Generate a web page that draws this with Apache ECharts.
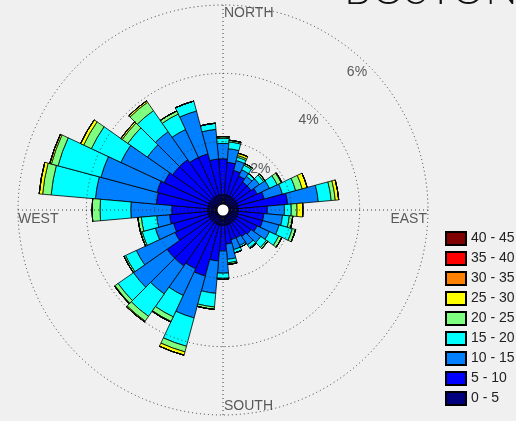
<!DOCTYPE html>
<html>
<head>
<meta charset="utf-8">
<script src="https://cdn.jsdelivr.net/npm/echarts@6/dist/echarts.min.js"></script>
<style>
  html, body { margin: 0; padding: 0; background: #f0f0f0; }
  #chart { width: 516px; height: 421px; }
</style>
</head>
<body>
<div id="chart"></div>
<script>
// Wind directions (degrees from north, clockwise), one bar per 10° sector
const directions = [0,10,20,30,40,50,60,70,80,90,100,110,120,130,140,150,160,170,
                    180,190,200,210,220,230,240,250,260,270,280,290,300,310,320,330,340,350];

// Speed classes (legend lists them highest first)
const speedBins = ['0 - 5','5 - 10','10 - 15','15 - 20','20 - 25','25 - 30','30 - 35','35 - 40','40 - 45'];
const binColors = ['#00007f','#0000ff','#007fff','#00ffff','#7fff7f','#ffff00','#ff7f00','#ff0000','#7f0000'];

// Frequency (% of time) per direction for each speed class
const freq0to5   = [0.45,0.45,0.45,0.45,0.45,0.45,0.45,0.45,0.45,0.45,0.45,0.45,0.45,0.45,0.45,0.45,0.45,0.45,
                    0.45,0.45,0.45,0.45,0.45,0.45,0.45,0.45,0.45,0.45,0.45,0.45,0.45,0.45,0.45,0.45,0.45,0.45];
const freq5to10  = [1.05,0.95,0.75,0.65,0.55,0.55,0.65,0.80,1.45,0.85,0.75,0.75,0.65,0.55,0.50,0.45,0.45,0.55,
                    0.75,1.05,1.55,1.45,1.55,1.55,1.10,1.05,1.12,1.05,1.51,1.55,1.45,1.35,1.35,1.25,1.25,1.05];
const freq10to15 = [0.45,0.40,0.30,0.20,0.20,0.30,0.40,0.55,0.90,0.50,0.55,0.50,0.40,0.35,0.30,0.25,0.30,0.45,
                    0.65,0.95,1.27,0.86,1.00,1.20,1.25,0.55,0.38,1.20,1.79,1.70,1.40,0.90,1.00,0.90,1.30,0.87];
const freq15to20 = [0.15,0.20,0.10,0.15,0.10,0.15,0.25,0.40,0.38,0.20,0.20,0.40,0.30,0.20,0.10,0.05,0.10,0.10,
                    0.15,0.40,0.86,0.69,0.80,0.55,0.35,0.40,0.45,0.90,1.30,1.30,0.95,0.70,0.75,0.50,0.30,0.18];
const freq20to25 = [0.05,0.05,0.05,0.05,0.00,0.05,0.13,0.20,0.12,0.17,0.10,0.10,0.10,0.05,0.03,0.00,0.00,0.05,
                    0.02,0.07,0.17,0.15,0.17,0.11,0.05,0.05,0.10,0.23,0.25,0.20,0.25,0.20,0.30,0.10,0.00,0.00];
const freq25to30 = [0.00,0.00,0.07,0.00,0.00,0.00,0.02,0.15,0.10,0.17,0.00,0.00,0.00,0.00,0.00,0.00,0.00,0.00,
                    0.00,0.00,0.10,0.02,0.03,0.02,0.00,0.00,0.00,0.00,0.10,0.05,0.10,0.05,0.05,0.00,0.00,0.00];
const freq30to35 = new Array(36).fill(0);
const freq35to40 = new Array(36).fill(0);
const freq40to45 = new Array(36).fill(0);
const binSeries = [freq0to5, freq5to10, freq10to15, freq15to20, freq20to25,
                   freq25to30, freq30to35, freq35to40, freq40to45];

// Ring labels and compass labels
const radiusTicks = [2, 4, 6];
const compassNames = ['NORTH', 'EAST', 'SOUTH', 'WEST'];
const compassAngles = [0, 90, 180, 270];

const CENTER = [223, 210];
const RADIUS = 205;
const R_MAX = 6;
const FONT = 'Liberation Sans, Arial, sans-serif';
const gridLine = { color: '#3a3a3a', width: 1, type: [1, 3] };

const chart = echarts.init(document.getElementById('chart'));

const barSeries = binSeries.map((vals, i) => ({
  name: speedBins[i],
  type: 'bar',
  coordinateSystem: 'polar',
  polarIndex: 0,
  stack: 'wind',
  barCategoryGap: '0%',
  data: vals,
  itemStyle: { color: binColors[i], borderColor: '#000', borderWidth: 0.8 },
  emphasis: { disabled: true },
  silent: true,
  z: 2
}));

const compassLayout = {
  NORTH: { align: 'left', offset: [1, 8] },
  EAST:  { align: 'right', offset: [-1, 9] },
  SOUTH: { align: 'left', offset: [1, -9] },
  WEST:  { align: 'left', offset: [0, 9] }
};

const option = {
  backgroundColor: '#f0f0f0',
  animation: false,
  polar: [
    { center: CENTER, radius: RADIUS },
    { center: CENTER, radius: RADIUS }
  ],
  angleAxis: [
    {
      polarIndex: 0, type: 'category', data: directions,
      startAngle: 95, clockwise: true, boundaryGap: true,
      axisLine: { show: false }, axisTick: { show: false },
      axisLabel: { show: false }, splitLine: { show: false }
    },
    {
      polarIndex: 1, type: 'value', min: 0, max: 360, interval: 90,
      startAngle: 90, clockwise: true, z: 5,
      axisLine: { show: false }, axisTick: { show: false },
      axisLabel: { show: false },
      splitLine: { show: true, lineStyle: gridLine }
    }
  ],
  radiusAxis: [
    { polarIndex: 0, type: 'value', min: 0, max: R_MAX, show: false },
    {
      polarIndex: 1, type: 'value', min: 0, max: R_MAX, interval: 2, z: 5,
      axisLine: { show: false }, axisTick: { show: false },
      axisLabel: { show: false },
      splitLine: { show: true, lineStyle: gridLine }
    }
  ],
  legend: {
    orient: 'vertical',
    left: 445, top: 231, padding: 0,
    itemWidth: 20, itemHeight: 13, itemGap: 5,
    icon: 'rect',
    selectedMode: false,
    data: speedBins.slice().reverse(),
    textStyle: { fontFamily: FONT, fontSize: 14, color: '#222' }
  },
  series: [
    ...barSeries,
    {
      type: 'scatter',
      coordinateSystem: 'polar',
      polarIndex: 1,
      symbolSize: 0,
      silent: true,
      z: 10,
      data: radiusTicks.map(v => ({ value: [v, 45], name: v + '%' })),
      label: {
        show: true, position: 'inside', formatter: '{b}',
        offset: [-11, 7], fontFamily: FONT, fontSize: 14, color: '#333'
      }
    },
    {
      type: 'scatter',
      coordinateSystem: 'polar',
      polarIndex: 1,
      symbolSize: 0,
      silent: true,
      z: 10,
      data: compassNames.map((n, i) => ({
        value: [R_MAX, compassAngles[i]], name: n,
        label: { align: compassLayout[n].align, offset: compassLayout[n].offset }
      })),
      label: {
        show: true, position: 'inside', formatter: '{b}',
        verticalAlign: 'middle', fontFamily: FONT, fontSize: 14, color: '#333'
      }
    }
  ],
  graphic: [
    {
      type: 'circle', silent: true, z: 20,
      shape: { cx: CENTER[0], cy: CENTER[1], r: 5.5 },
      style: { fill: '#ffffff' }
    },
    {
      type: 'text', silent: true, z: 20,
      x: 344, y: -31,
      style: { text: 'BOSTON', font: '300 43px Lato, sans-serif', fill: '#111', textBaseline: 'top' }
    }
  ]
};

chart.setOption(option);
</script>
</body>
</html>
